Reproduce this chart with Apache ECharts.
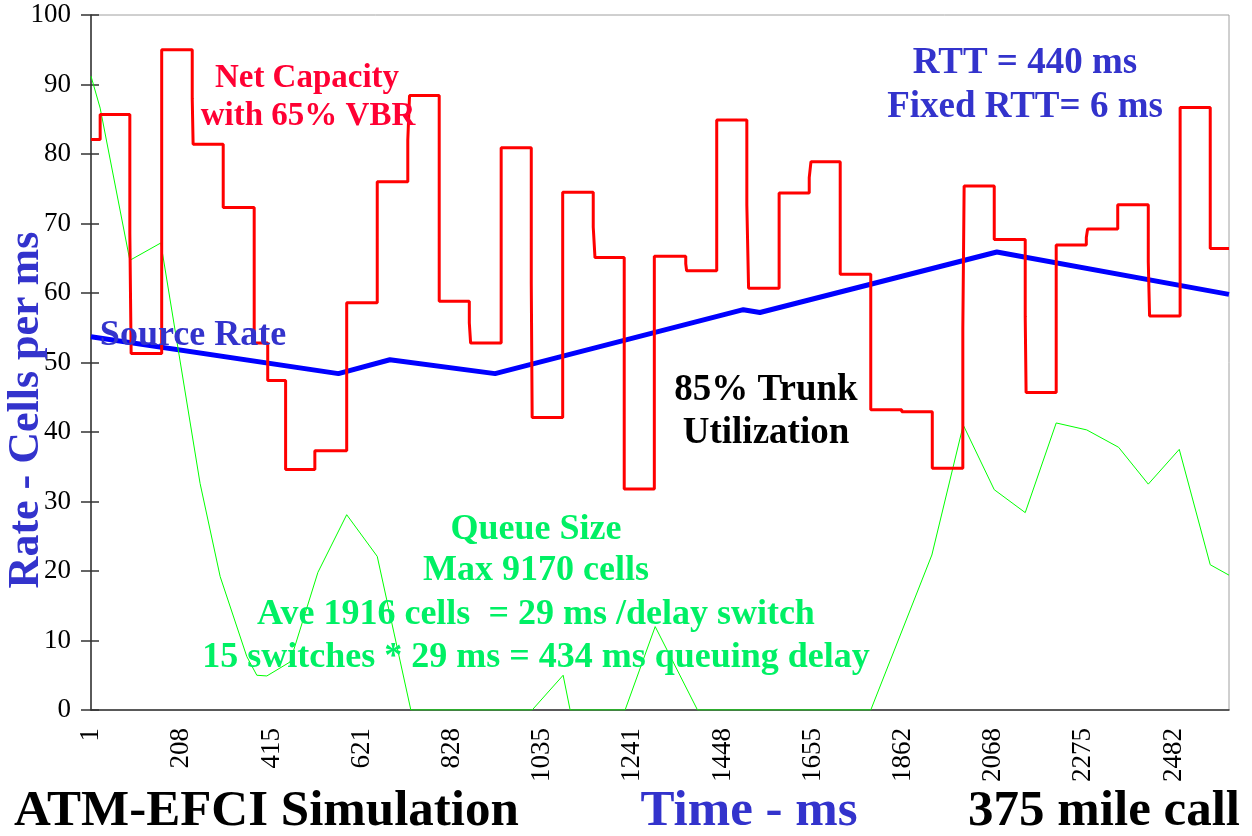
<!DOCTYPE html>
<html>
<head>
<meta charset="utf-8">
<title>ATM-EFCI Simulation</title>
<script src="https://cdn.jsdelivr.net/npm/echarts@6/dist/echarts.min.js"></script>
<style>
  html, body { margin: 0; padding: 0; background: #fff; }
  #chart { width: 1252px; height: 836px; }
</style>
</head>
<body>
<div id="chart"></div>
<script>
// tick labels on the time axis (every ~207 ms)
const xTickLabels = ['1', '208', '415', '621', '828', '1035', '1241', '1448', '1655', '1862', '2068', '2275', '2482']
const xStep = 206.75
const xEnd = 2609

// net capacity (step): time the level starts, level in cells/ms
const capTimes = [1, 22, 90, 93, 163, 233, 235, 304, 375, 406, 447, 514, 587, 657, 727, 731, 799, 868, 871, 941,
  1010, 1012, 1082, 1152, 1156, 1223, 1292, 1364, 1366, 1435, 1504, 1508, 1578, 1647, 1651, 1718, 1788, 1859,
  1929, 1999, 2002, 2071, 2142, 2144, 2213, 2282, 2285, 2354, 2424, 2427, 2497, 2566]
const capValues = [82.1, 85.7, 68.6, 51.3, 95.0, 88.0, 81.4, 72.3, 52.8, 47.4, 34.6, 37.3, 58.6, 76.0, 82.0, 88.4, 58.8, 55.7, 52.8, 80.9,
  61.4, 42.1, 74.5, 69.5, 65.1, 31.8, 65.3, 64.2, 63.2, 84.9, 72.7, 60.7, 74.4, 76.6, 78.9, 62.7, 43.2, 42.9,
  34.8, 54.9, 75.4, 67.7, 56.6, 45.7, 66.9, 68.0, 69.2, 72.7, 64.5, 56.7, 86.7, 66.4]

// source rate
const rateTimes = [1, 568, 686, 927, 1496, 1534, 2077, 2609]
const rateValues = [53.7, 48.4, 50.4, 48.4, 57.6, 57.2, 65.9, 59.8]

// queue size (scaled)
const queueTimes = [1, 22, 90, 161, 251, 297, 358, 381, 404, 457, 521, 587, 657, 734, 1012, 1083, 1099, 1225, 1294, 1391,
  1788, 1928, 2000, 2071, 2142, 2213, 2283, 2356, 2424, 2495, 2566, 2609]
const queueValues = [91.2, 86.6, 64.7, 67.2, 32.6, 19.2, 7.7, 5.0, 4.9, 6.9, 19.8, 28.1, 22.1, 0, 0, 5.0, 0, 0, 12.0, 0,
  0, 22.3, 41.0, 31.7, 28.4, 41.3, 40.3, 37.8, 32.5, 37.5, 20.9, 19.4]

const serif = '"Liberation Serif", "Times New Roman", serif'
const blueText = '#3333cc'
const greenText = '#00f064'

function stepPoints(times, values, end) {
  var pts = [[times[0], values[0]]]
  for (var i = 1; i < times.length; ++i) {
    pts.push([times[i], values[i - 1]])
    pts.push([times[i], values[i]])
  }
  pts.push([end, values[values.length - 1]])
  return pts
}

function pairs(times, values) {
  return times.map(function(t, i) { return [t, values[i]] })
}

function label(text, x, y, color, size, align) {
  return {
    type: 'text',
    x: x,
    y: y,
    z: 100,
    style: {
      text: text,
      fill: color,
      font: 'bold ' + size + 'px ' + serif,
      align: align || 'center',
      verticalAlign: 'middle'
    }
  }
}

const chart = echarts.init(document.getElementById('chart'))

chart.setOption({
  animation: false,
  backgroundColor: '#fff',
  grid: {
    left: 91,
    right: 23,
    top: 15,
    bottom: 126,
    show: true,
    borderColor: '#a0a0a0',
    borderWidth: 1
  },
  xAxis: {
    type: 'value',
    min: 1,
    max: xEnd,
    interval: xStep,
    splitLine: { show: false },
    axisTick: { show: false },
    axisLine: { lineStyle: { color: '#333', width: 1.5 } },
    axisLabel: {
      rotate: 90,
      margin: 18,
      color: '#000',
      fontSize: 27,
      fontFamily: serif,
      showMaxLabel: false,
      formatter: function(v) {
        var idx = Math.round((v - 1) / xStep)
        return xTickLabels[idx] || ''
      }
    }
  },
  yAxis: [{
    type: 'value',
    min: 0,
    max: 100,
    interval: 10,
    splitLine: { show: false },
    axisLine: { show: true, lineStyle: { color: '#333', width: 1.5 } },
    axisTick: { show: true, length: 10, lineStyle: { color: '#333', width: 1.5 } },
    axisLabel: { margin: 20, color: '#000', fontSize: 27, fontFamily: serif }
  }, {
    // inner half of the crossing ticks
    type: 'value',
    position: 'left',
    min: 0,
    max: 100,
    interval: 10,
    splitLine: { show: false },
    axisLine: { show: false },
    axisTick: { show: true, inside: true, length: 8, lineStyle: { color: '#333', width: 1.5 } },
    axisLabel: { show: false }
  }],
  series: [{
    name: 'Source Rate',
    type: 'line',
    data: pairs(rateTimes, rateValues),
    showSymbol: false,
    lineStyle: { color: '#0000ff', width: 5 }
  }, {
    name: 'Queue Size',
    type: 'line',
    data: pairs(queueTimes, queueValues),
    showSymbol: false,
    lineStyle: { color: '#00ff00', width: 1 }
  }, {
    name: 'Net Capacity',
    type: 'line',
    data: stepPoints(capTimes, capValues, xEnd),
    showSymbol: false,
    lineStyle: { color: '#ff0000', width: 3 }
  }],
  graphic: [
    label('Net Capacity', 307, 78, '#ff0033', 33),
    label('with 65% VBR', 308, 116, '#ff0033', 33),
    label('RTT = 440 ms', 1025, 63, blueText, 37),
    label('Fixed RTT= 6 ms', 1025, 107, blueText, 37),
    label('Source Rate', 193, 336, blueText, 36),
    label('85% Trunk', 766, 390, '#000', 37),
    label('Utilization', 766, 433, '#000', 37),
    label('Queue Size', 536, 530, greenText, 36),
    label('Max 9170 cells', 536, 571, greenText, 36),
    label('Ave 1916 cells  = 29 ms /delay switch', 536, 615, greenText, 36),
    label('15 switches * 29 ms = 434 ms queuing delay', 536, 658, greenText, 36),
    label('ATM-EFCI Simulation', 14, 812, '#000', 51, 'left'),
    label('Time - ms', 749, 812, blueText, 51),
    label('375 mile call', 1240, 812, '#000', 51, 'right'),
    {
      type: 'text',
      x: 27,
      y: 410,
      rotation: Math.PI / 2,
      z: 100,
      style: {
        text: 'Rate - Cells per ms',
        fill: blueText,
        font: 'bold 44px ' + serif,
        align: 'center',
        verticalAlign: 'middle'
      }
    }
  ]
})
</script>
</body>
</html>
